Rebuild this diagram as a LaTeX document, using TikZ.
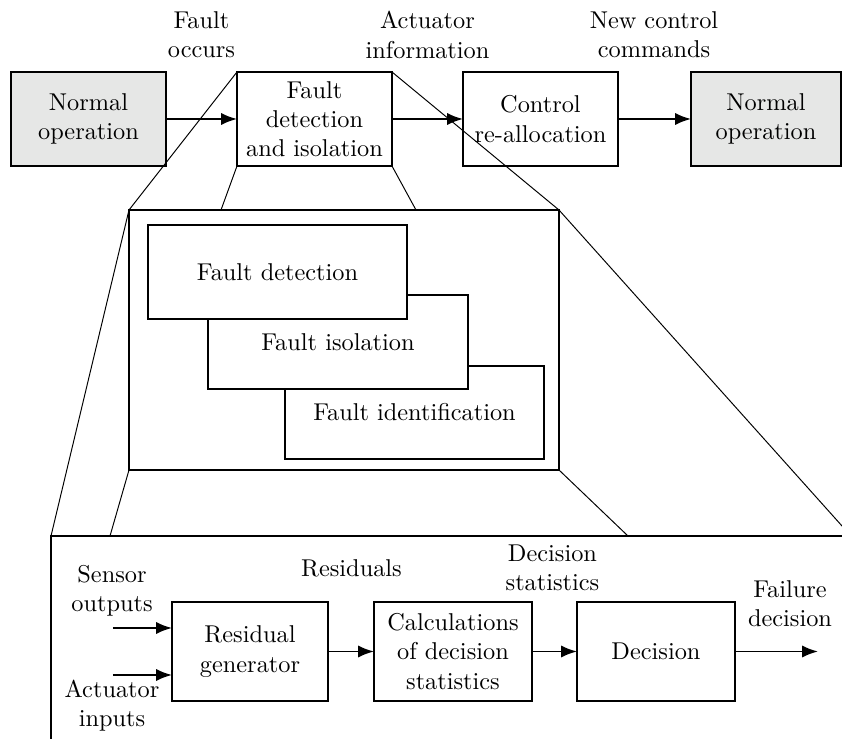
\documentclass[tikz,border=0pt]{standalone}
\usetikzlibrary{arrows.meta}
\definecolor{boxgray}{RGB}{230,231,230}
\begin{document}
\begin{tikzpicture}[x=0.411pt,y=-0.411pt,
  box/.style={draw, line width=0.75pt, inner sep=0pt, outer sep=0pt, align=center},
  sz/.style 2 args={minimum width=#1*0.411pt, minimum height=#2*0.411pt},
  flow/.style={-{Latex[length=6.5pt,width=5pt]}, line width=0.75pt},
  zoomline/.style={line width=0.4pt},
  lbl/.style={align=center, inner sep=0pt}]
\clip (0,0) rectangle (842,739);

% top row
\node[box, sz={155}{94}, fill=boxgray] (n1) at (88.5,119) {Normal\\operation};
\node[box, sz={155}{94}] (fdi) at (314.5,119) {Fault\\detection\\and isolation};
\node[box, sz={155}{94}] (cra) at (540.5,119) {Control\\re-allocation};
\node[box, sz={150}{94}, fill=boxgray] (n2) at (766,119) {Normal\\operation};
\draw[flow] (n1) -- (fdi);
\draw[flow] (fdi) -- (cra);
\draw[flow] (cra) -- (n2);
\node[lbl] (l1) at (201.5,35) {Fault\\occurs};
\node[lbl] (l2) at (427.5,35) {Actuator\\information};
\node[lbl] (l3) at (654,35) {New control\\commands};

% middle zoom
\node[box, sz={430}{260}] (mid) at (344,340) {};
\node[box, sz={259}{93}, fill=white] (idf) at (414.5,412.5) {Fault identification};
\node[box, sz={260}{94}, fill=white] (iso) at (338,342) {Fault isolation};
\node[box, sz={259}{94}, fill=white] (det) at (277.5,272) {Fault detection};

% bottom zoom
\node[box, sz={800}{260}] (low) at (451,666) {};
\node[box, sz={156}{99}] (rg) at (250,651.5) {Residual\\generator};
\node[box, sz={158}{99}] (calc) at (453,651.5) {Calculations\\of decision\\statistics};
\node[box, sz={158}{99}] (dec) at (656,651.5) {Decision};
\node[lbl] (so) at (112,591) {Sensor\\outputs};
\node[lbl] (ai) at (112,706) {Actuator\\inputs};
\node[lbl] (res) at (351.5,568) {Residuals};
\node[lbl] (ds) at (552.5,568) {Decision\\statistics};
\node[lbl] (fd) at (790,604) {Failure\\decision};
\coordinate (s0) at (113,628);
\coordinate (a0) at (113,675);
\coordinate (out) at (818,651.5);
\draw[flow] (s0) -- (s0 -| rg.west);
\draw[flow] (a0) -- (a0 -| rg.west);
\draw[flow] (rg) -- (calc);
\draw[flow] (calc) -- (dec);
\draw[flow] (dec) -- (out);

% zoom lines
\coordinate (m1) at (221,210);
\coordinate (m2) at (416,210);
\coordinate (b1) at (110,536);
\coordinate (b2) at (628,536);
\draw[zoomline] (fdi.north west) -- (mid.north west);
\draw[zoomline] (fdi.north east) -- (mid.north east);
\draw[zoomline] (fdi.south west) -- (m1);
\draw[zoomline] (fdi.south east) -- (m2);
\draw[zoomline] (mid.north west) -- (low.north west);
\draw[zoomline] (mid.north east) -- (low.north east);
\draw[zoomline] (mid.south west) -- (b1);
\draw[zoomline] (mid.south east) -- (b2);
\end{tikzpicture}
\end{document}
